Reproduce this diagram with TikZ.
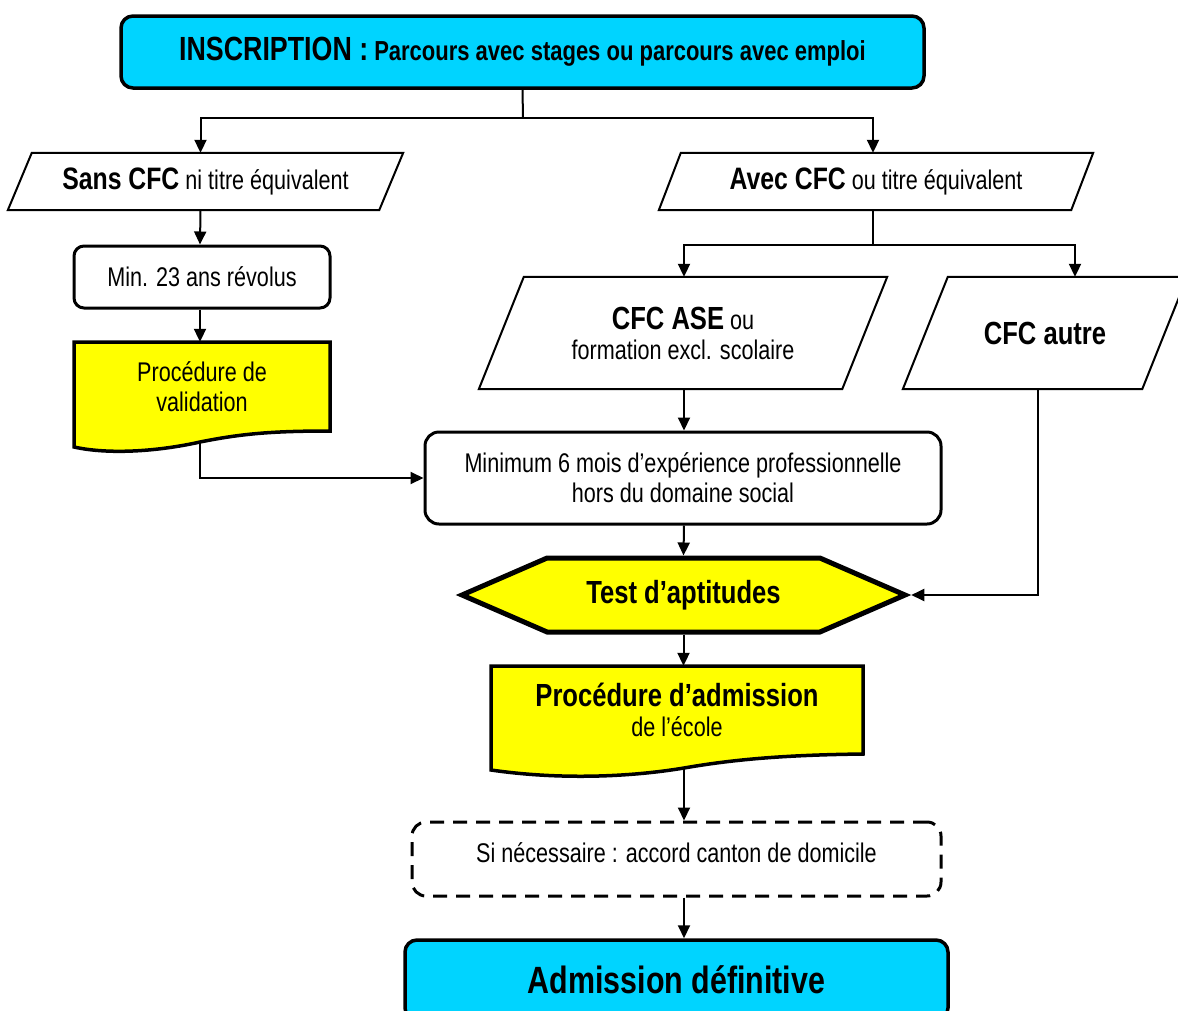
\documentclass[tikz,border=0pt]{standalone}
\usepackage{fontspec}
\setmainfont{Liberation Sans}[FakeStretch=0.8]
\usetikzlibrary{arrows.meta,shapes.symbols}
\definecolor{boxcyan}{RGB}{0,212,255}
\definecolor{boxyellow}{RGB}{255,255,0}
\newcommand{\myarrow}{-{Triangle[length=13pt,width=12pt]}}
\newcommand{\txtn}{\fontsize{27}{30}\selectfont}
\newcommand{\txtb}{\fontsize{32}{34}\selectfont\bfseries}

\begin{document}
\begin{tikzpicture}[x=1pt,y=-1pt,
    rbox/.style={draw,rounded corners=10pt,line width=3pt,inner sep=0pt,align=center,font=\txtn},
    pgram/.style={inner sep=0pt,align=center,font=\txtn,
      append after command={\pgfextra{\draw[line width=2pt] ([xshift=#1]\tikzlastnode.north west)
        -- (\tikzlastnode.north east) -- ([xshift=-#1]\tikzlastnode.south east)
        -- (\tikzlastnode.south west) -- cycle;}}},
    docline/.style={draw,fill=boxyellow,line width=3.5pt},
    conn/.style={line width=2pt}]
  \useasboundingbox (0,0) rectangle (1178,1010);
  % yellow document shapes
  \draw[docline] (74,342) -- (330,342) -- (330,431) .. controls (270,431) and (240,434) .. (200,442)
    .. controls (160,451) and (110,455) .. (74,447) -- cycle;
  \draw[docline] (491,666) -- (863,666) -- (863,754) .. controls (780,755) and (730,760) .. (684,768)
    .. controls (630,777) and (560,780) .. (491,770) -- cycle;
  % nodes
  \node[rbox,fill=boxcyan,line width=3.5pt,rounded corners=12pt,minimum width=803,minimum height=72] (inscr) at (522.5,52)
    {{\fontsize{33.5}{36}\selectfont\bfseries INSCRIPTION :} {\fontsize{27.5}{30}\selectfont\bfseries Parcours avec stages ou parcours avec emploi}};
  \node[pgram=24,minimum width=395,minimum height=57] (sans) at (205.5,181.5)
    {{\fontsize{31}{34}\selectfont\bfseries Sans CFC} ni titre équivalent};
  \node[pgram=22,minimum width=434,minimum height=57] (avec) at (876,181.5)
    {{\fontsize{31}{34}\selectfont\bfseries Avec CFC} ou titre équivalent};
  \node[rbox,minimum width=256,minimum height=62] (min23) at (202,277) {Min. 23 ans révolus};
  \node[font=\txtn,align=center,inner sep=0pt,minimum width=256,minimum height=89] (valid) at (202,386.5)
    {Procédure de\\validation};
  \coordinate (valid-b) at (200,442);
  \node[pgram=45,minimum width=408,minimum height=112] (ase) at (683,333)
    {{\txtb CFC ASE} ou\\formation excl. scolaire};
  \node[pgram=45,minimum width=284,minimum height=112] (autre) at (1045,333)
    {\txtb CFC autre};
  \node[rbox,rounded corners=14pt,minimum width=516,minimum height=92] (exp) at (683,478)
    {Minimum 6 mois d’expérience professionnelle\\hors du domaine social};
  \node[draw,signal,signal to=east and west,signal pointer angle=47,fill=boxyellow,line width=5pt,
    inner sep=0pt,minimum width=443,minimum height=74] (test) at (683.5,595) {\txtb Test d’aptitudes};
  \node[font=\txtn,align=center,inner sep=0pt,minimum width=372,minimum height=88] (adm) at (677,710)
    {{\txtb Procédure d’admission}\\de l’école};
  \coordinate (adm-b) at (684,768);
  \node[rbox,rounded corners=14pt,dash pattern=on 14pt off 9pt,minimum width=529,minimum height=74] (cant) at (676.5,859)
    {\raisebox{12pt}{Si nécessaire : accord canton de domicile}};
  \node[rbox,fill=boxcyan,line width=3.5pt,rounded corners=12pt,minimum width=543,minimum height=80] (final) at (676.5,980)
    {\fontsize{38}{40}\selectfont\bfseries Admission définitive};
  % connectors
  \coordinate (fork1) at (523,118);
  \draw[conn] (inscr.south) -- (fork1);
  \draw[conn,\myarrow] (fork1) -| ([xshift=-5pt]sans.north);
  \draw[conn,\myarrow] (fork1) -| ([xshift=-3pt]avec.north);
  \draw[conn,\myarrow] ([xshift=-5pt]sans.south) -- (min23.north -| valid-b);
  \draw[conn,\myarrow] (min23.south -| valid-b) -- (valid.north -| valid-b);
  \draw[conn,\myarrow] (valid-b) |- (exp.west);
  \path ([xshift=-3pt]avec.south) ++(0,35) coordinate (fork2);
  \draw[conn] ([xshift=-3pt]avec.south) -- (fork2);
  \draw[conn,\myarrow] (fork2) -| ([xshift=1pt]ase.north);
  \draw[conn,\myarrow] (fork2) -| ([xshift=30pt]autre.north);
  \draw[conn,\myarrow] ([xshift=1pt]ase.south) -- ([xshift=1pt]exp.north);
  \draw[conn,\myarrow] ([xshift=1pt]exp.south) -- (test.north);
  \draw[conn,\myarrow] ([xshift=-7pt]autre.south) |- (test.east);
  \draw[conn,\myarrow] (test.south) -- (test.south |- adm.north);
  \draw[conn,\myarrow] (adm-b) -- (adm-b |- cant.north);
  \draw[conn,\myarrow] (adm-b |- cant.south) -- (adm-b |- final.north);
\end{tikzpicture}
\end{document}
